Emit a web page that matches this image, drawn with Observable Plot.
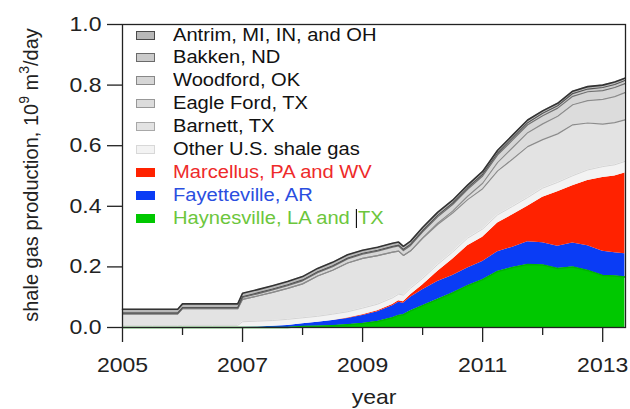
<!DOCTYPE html>
<html><head><meta charset="utf-8">
<script src="https://cdn.jsdelivr.net/npm/d3@7"></script>
<script src="https://cdn.jsdelivr.net/npm/@observablehq/plot@0.6"></script>
<style>
body{margin:0;background:#fff;}
#wrap{position:relative;width:630px;height:409px;font-family:"Liberation Sans",Arial,sans-serif;}
.lg{position:absolute;left:136px;height:22px;display:flex;align-items:center;font-size:17.5px;white-space:nowrap;}
.sw{width:19px;height:9px;margin-right:18px;box-sizing:border-box;flex:none;}
.lt{display:inline-block;transform:scaleX(1.15);transform-origin:0 50%;}
.cur{display:inline-block;width:1.3px;height:19px;background:#111;vertical-align:-4px;margin-right:1px;}
</style></head><body><div id="wrap"></div>
<script>
const years = [2005.0,2005.5,2005.92,2006.0,2006.5,2006.92,2007.0,2007.25,2007.5,2007.75,2008.0,2008.25,2008.5,2008.75,2009.0,2009.25,2009.5,2009.6,2009.68,2009.8,2010.0,2010.25,2010.5,2010.75,2011.0,2011.25,2011.5,2011.75,2012.0,2012.25,2012.5,2012.75,2013.0,2013.2,2013.37];
const haynesville = [0,0,0,0,0,0,0,0,0,0,0.003,0.004,0.006,0.009,0.013,0.02,0.032,0.04,0.042,0.055,0.072,0.093,0.114,0.138,0.158,0.185,0.198,0.208,0.206,0.195,0.2,0.188,0.172,0.17,0.167];
const fayetteville = [0,0,0,0,0,0,0.001,0.002,0.004,0.007,0.009,0.013,0.017,0.021,0.027,0.032,0.04,0.043,0.038,0.045,0.053,0.059,0.058,0.058,0.06,0.065,0.067,0.075,0.074,0.073,0.079,0.082,0.08,0.077,0.076];
const marcellus = [0,0,0,0,0,0,0,0,0,0,0,0,0,0.001,0.002,0.003,0.004,0.005,0.005,0.008,0.015,0.033,0.053,0.074,0.08,0.095,0.107,0.117,0.15,0.18,0.189,0.215,0.243,0.253,0.267];
const otherUS = [0.006,0.006,0.006,0.007,0.007,0.007,0.018,0.019,0.019,0.02,0.02,0.02,0.021,0.021,0.022,0.022,0.022,0.022,0.022,0.022,0.022,0.023,0.024,0.025,0.027,0.027,0.028,0.029,0.03,0.031,0.033,0.035,0.036,0.037,0.038];
const barnett = [0.039,0.039,0.039,0.055,0.055,0.055,0.074,0.083,0.093,0.102,0.112,0.133,0.145,0.161,0.164,0.16,0.151,0.142,0.131,0.123,0.132,0.132,0.129,0.127,0.133,0.145,0.156,0.168,0.16,0.16,0.168,0.155,0.14,0.139,0.137];
const eagleFord = [0,0,0,0,0,0,0,0,0,0,0,0,0,0,0,0,0,0,0,0,0.002,0.004,0.006,0.011,0.018,0.028,0.038,0.046,0.052,0.058,0.066,0.074,0.082,0.086,0.09];
const woodford = [0.001,0.001,0.001,0.002,0.002,0.002,0.006,0.007,0.008,0.009,0.01,0.011,0.012,0.013,0.014,0.015,0.016,0.017,0.016,0.018,0.02,0.021,0.022,0.023,0.024,0.025,0.025,0.026,0.027,0.027,0.028,0.029,0.029,0.03,0.03];
const bakken = [0.002,0.002,0.002,0.002,0.002,0.002,0.003,0.003,0.003,0.003,0.003,0.003,0.003,0.003,0.003,0.003,0.003,0.003,0.004,0.004,0.004,0.005,0.005,0.005,0.006,0.006,0.007,0.007,0.008,0.008,0.009,0.009,0.01,0.01,0.01];
const antrim = [0.012,0.012,0.012,0.012,0.012,0.012,0.011,0.011,0.011,0.011,0.011,0.011,0.011,0.011,0.01,0.01,0.01,0.01,0.01,0.01,0.01,0.01,0.009,0.009,0.009,0.009,0.009,0.009,0.008,0.008,0.008,0.008,0.008,0.008,0.008];

const seriesNames = ["Haynesville, LA and TX","Fayetteville, AR","Marcellus, PA and WV","Other U.S. shale gas","Barnett, TX","Eagle Ford, TX","Woodford, OK","Bakken, ND","Antrim, MI, IN, and OH"];
const seriesValues = [haynesville,fayetteville,marcellus,otherUS,barnett,eagleFord,woodford,bakken,antrim];
const fillColors = ["#00c800","#0a3cf5","#ff2200","#f3f3f3","#e3e3e3","#dcdcdc","#d6d6d6","#cbcbcb","#b8b8b8"];
const lineColors = ["#00b400","none","none","#d4d4d4","#8c8c8c","#8c8c8c","#707070","#555555","#333333"];
const lineWidths = [1.5,0,0,1,1.2,1.2,1.2,1.2,1.6];
const swatchStroke = ["none","none","none","#d8d8d8","#a8a8a8","#989898","#888888","#6a6a6a","#4a4a4a"];
const textColors = ["#6cc63c","#2a4ee0","#ee2a2a","#111","#111","#111","#111","#111","#111"];
const yTicks = [0,0.2,0.4,0.6,0.8,1.0];
const majorYears = [2005,2007,2009,2011,2013];
const minorYears = [2006,2008,2010,2012];

const rows = [];
seriesNames.forEach((s, k) => years.forEach((t, i) => rows.push({year: t, series: s, value: seriesValues[k][i], k})));

const chart = Plot.plot({
  width: 630, height: 409,
  marginLeft: 122, marginRight: 5, marginTop: 24, marginBottom: 82,
  x: {domain: [2005, 2013.38]},
  y: {domain: [0, 1]},
  color: {domain: seriesNames, range: fillColors},
  style: {fontFamily: "'Liberation Sans', Arial, sans-serif", fontSize: "20px", color: "#222", background: "white"},
  marks: [
    Plot.areaY(rows, Plot.stackY({x: "year", y: "value", z: "series", fill: "series", order: seriesNames, curve: "linear"})),
    Plot.lineY(rows, Plot.stackY2({x: "year", y: "value", z: "series", order: seriesNames,
      stroke: d => lineColors[d.k], strokeWidth: d => lineWidths[d.k], curve: "linear"})),
    Plot.frame({stroke: "#222", strokeWidth: 1.3}),
    Plot.axisY(yTicks, {tickSize: 15, tickPadding: 6, tickFormat: d3.format(".1f"), label: null, stroke: "#222", strokeWidth: 1.3}),
    Plot.axisX(majorYears, {tickSize: 15, tickPadding: 15, tickFormat: d => String(d), label: null, stroke: "#222", strokeWidth: 1.3}),
    Plot.axisX(minorYears, {tickSize: 8, tickFormat: () => "", label: null, stroke: "#222", strokeWidth: 1.3})
  ]
});
const wrap = document.getElementById("wrap");
wrap.appendChild(chart);

// widen tick labels horizontally like the reference's lettering
chart.querySelectorAll('g[aria-label$="tick label"] text').forEach(t => {
  const tr = t.getAttribute("transform") || "";
  t.setAttribute("transform", tr + " scale(1.15,1)");
});

const ns = "http://www.w3.org/2000/svg";
const ylab = document.createElementNS(ns, "text");
ylab.setAttribute("transform", "translate(38,175) rotate(-90)");
ylab.setAttribute("text-anchor", "middle");
ylab.setAttribute("fill", "#222");
ylab.setAttribute("font-size", "20");
ylab.innerHTML = 'shale gas production, 10<tspan dy="-9" font-size="14">9</tspan><tspan dy="9"> m</tspan><tspan dy="-9" font-size="14">3</tspan><tspan dy="9">/day</tspan>';
chart.appendChild(ylab);
const xlab = document.createElementNS(ns, "text");
xlab.setAttribute("transform", "translate(374,404) scale(1.15,1)");
xlab.setAttribute("text-anchor", "middle");
xlab.setAttribute("fill", "#222");
xlab.setAttribute("font-size", "20");
xlab.textContent = "year";
chart.appendChild(xlab);

// legend, top to bottom = reverse stacking order
const order = seriesNames.map((s, k) => k).reverse();
order.forEach((k, i) => {
  const row = document.createElement("div");
  row.className = "lg";
  row.style.top = (24 + i * 22.9) + "px";
  const sw = document.createElement("div");
  sw.className = "sw";
  sw.style.background = fillColors[k];
  if (swatchStroke[k] !== "none") sw.style.border = "1px solid " + swatchStroke[k];
  const tx = document.createElement("span");
  tx.className = "lt";
  tx.style.color = textColors[k];
  const name = seriesNames[k];
  if (k === 0) {
    const cut = name.lastIndexOf("TX");
    tx.appendChild(document.createTextNode(name.slice(0, cut)));
    const bar = document.createElement("span");
    bar.className = "cur";
    tx.appendChild(bar);
    tx.appendChild(document.createTextNode(name.slice(cut)));
  } else {
    tx.textContent = name;
  }
  row.appendChild(sw); row.appendChild(tx);
  wrap.appendChild(row);
});
</script></body></html>
